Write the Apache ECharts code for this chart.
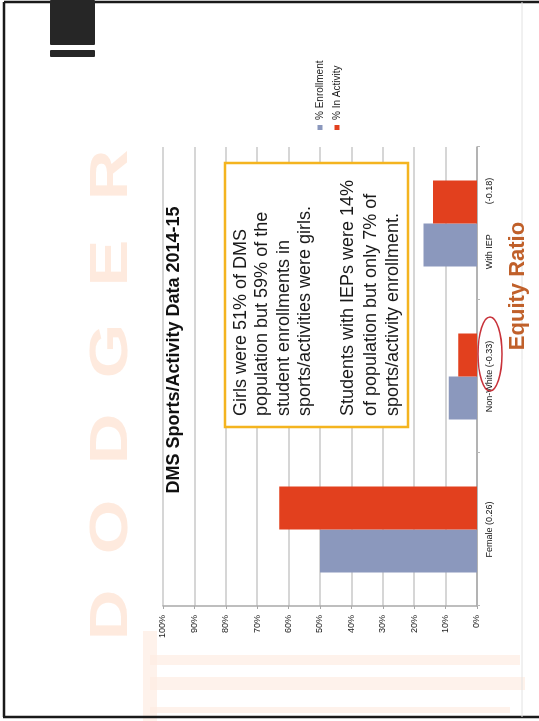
<!DOCTYPE html>
<html>
<head>
<meta charset="utf-8">
<script src="https://cdn.jsdelivr.net/npm/echarts@6/dist/echarts.min.js"></script>
<style>
  html, body { margin: 0; padding: 0; background: #fff; overflow: hidden; }
  /* The slide is laid out landscape and turned a quarter turn counter-clockwise */
  #slide {
    position: absolute; left: 0; top: 0;
    width: 721px; height: 539px;
    transform-origin: 0 0;
    transform: translateY(721px) rotate(-90deg);
  }
</style>
</head>
<body>
<div id="slide"></div>
<script>
// Chart data
const categories = ['Female (0.26)', 'Non-White (-0.33)', 'With IEP            (-0.18)'];
const enrollment = [50, 9, 17];   // % Enrollment
const inActivity = [63, 6, 14];   // % In Activity
const seriesNames = ['% Enrollment', '% In Activity'];
const valueMin = 0, valueMax = 100, valueStep = 10;

const titleText = 'DMS Sports/Activity Data 2014-15';
const noteGirls = 'Girls were 51% of DMS\npopulation but 59% of the\nstudent enrollments in\nsports/activities were girls.';
const noteIep = 'Students with IEPs were 14%\nof population but only 7% of\nsports/activity enrollment.';
const footerText = 'Equity Ratio';
const bannerLetters = ['D', 'O', 'D', 'G', 'E', 'R'];

const FONT = '"Liberation Sans", Arial, sans-serif';
const chart = echarts.init(document.getElementById('slide'), null, { renderer: 'canvas' });

// faded banner lettering along the top of the slide
const banner = bannerLetters.map((ch, i) => ({
  type: 'text', z: 0, silent: true,
  x: 106 + i * 88, y: 112, scaleX: 1.3,
  style: {
    text: ch, fill: '#fde3d3', opacity: 0.75,
    font: 'bold 54px ' + FONT, align: 'center', verticalAlign: 'middle'
  }
}));

// faint stripes bleeding in from the slide background
const stripes = [
  { x: 56, y: 150, w: 10, h: 370 },
  { x: 31, y: 150, w: 13, h: 375 },
  { x: 8, y: 150, w: 6, h: 360 },
  { x: 0, y: 143, w: 90, h: 14 }
].map(s => ({
  type: 'rect', z: 0, silent: true,
  shape: { x: s.x, y: s.y, width: s.w, height: s.h },
  style: { fill: '#fdece2', opacity: 0.7 }
}));

chart.setOption({
  backgroundColor: '#ffffff',
  animation: false,
  textStyle: { fontFamily: FONT },
  color: ['#8b98bd', '#e2401e'],
  grid: { left: 115, right: 147, top: 163, bottom: 62, containLabel: false },
  legend: {
    data: seriesNames,
    orient: 'vertical',
    left: 586, top: 310,
    itemWidth: 5, itemHeight: 5, itemGap: 7,
    icon: 'rect',
    textStyle: { fontSize: 10, color: '#222', fontFamily: FONT }
  },
  xAxis: {
    type: 'category',
    data: categories,
    axisLine: { lineStyle: { color: '#a8a8a8', width: 1.5 } },
    axisTick: { show: true, length: 3, lineStyle: { color: '#b8b8b8' } },
    axisLabel: { fontSize: 9, color: '#111', margin: 8, fontFamily: FONT }
  },
  yAxis: {
    type: 'value',
    min: valueMin, max: valueMax, interval: valueStep,
    axisLine: { show: true, lineStyle: { color: '#a8a8a8', width: 1.5 } },
    axisTick: { show: true, length: 3, lineStyle: { color: '#a8a8a8' } },
    axisLabel: { formatter: '{value}%', fontSize: 9, color: '#222', margin: 9, fontFamily: FONT },
    splitLine: { lineStyle: { color: '#c8c8c8', width: 1.5 } }
  },
  series: [
    { name: seriesNames[0], type: 'bar', data: enrollment, barWidth: 43, barGap: '0%', z: 2 },
    { name: seriesNames[1], type: 'bar', data: inActivity, barWidth: 43, barGap: '0%', z: 2 }
  ],
  graphic: [
    ...banner,
    ...stripes,
    // slide frame
    { type: 'line', z: 1, silent: true, shape: { x1: 4, y1: 3, x2: 4, y2: 539 }, style: { stroke: '#1a1a1a', lineWidth: 2.5 } },
    { type: 'line', z: 1, silent: true, shape: { x1: 4, y1: 4, x2: 719, y2: 4 }, style: { stroke: '#1a1a1a', lineWidth: 2.5 } },
    { type: 'line', z: 1, silent: true, shape: { x1: 719, y1: 4, x2: 719, y2: 539 }, style: { stroke: '#1a1a1a', lineWidth: 2.5 } },
    { type: 'line', z: 1, silent: true, shape: { x1: 4, y1: 522, x2: 719, y2: 522 }, style: { stroke: '#e2e2e2', lineWidth: 1 } },
    // corner badge
    { type: 'rect', z: 1, silent: true, shape: { x: 676, y: 50, width: 45, height: 45, r: 1 }, style: { fill: '#262626' } },
    { type: 'rect', z: 1, silent: true, shape: { x: 664, y: 50, width: 7, height: 45, r: 1 }, style: { fill: '#262626' } },
    // chart title sitting inside the plot
    {
      type: 'text', z: 5, silent: true, x: 371, y: 174,
      style: { text: titleText, font: 'bold 18px ' + FONT, fill: '#111', align: 'center', verticalAlign: 'middle' }
    },
    // call-out box
    {
      type: 'rect', z: 5, silent: true,
      shape: { x: 294, y: 225, width: 264, height: 183 },
      style: { fill: '#ffffff', stroke: '#f4b41f', lineWidth: 2.5 }
    },
    {
      type: 'text', z: 6, silent: true, x: 305, y: 230,
      style: { text: noteGirls, font: '18px ' + FONT, fill: '#1a1a1a', lineHeight: 21.5, align: 'left', verticalAlign: 'top' }
    },
    {
      type: 'text', z: 6, silent: true, x: 305, y: 337,
      style: { text: noteIep, font: '18px ' + FONT, fill: '#1a1a1a', lineHeight: 22.5, align: 'left', verticalAlign: 'top' }
    },
    // hand-drawn ring around the Non-White ratio
    {
      type: 'ellipse', z: 7, silent: true,
      shape: { cx: 367, cy: 490, rx: 37, ry: 12 },
      style: { fill: 'none', stroke: '#c8323a', lineWidth: 1.5 }
    },
    // footer caption
    {
      type: 'text', z: 6, silent: true, x: 435, y: 518,
      style: { text: footerText, font: 'bold 22px "Liberation Sans Narrow", ' + FONT, fill: '#c0602a', align: 'center', verticalAlign: 'middle' }
    }
  ]
});
</script>
</body>
</html>
